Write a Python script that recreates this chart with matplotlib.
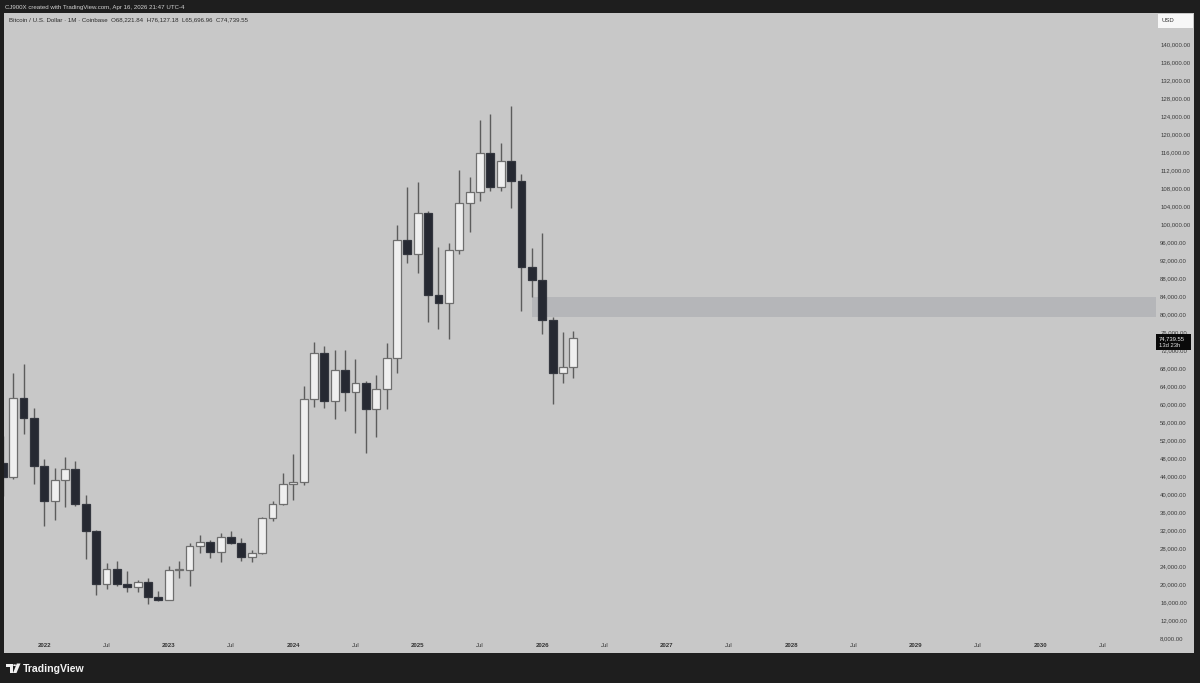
import matplotlib
matplotlib.use("Agg")
import matplotlib.pyplot as plt
from matplotlib.patches import Rectangle, Polygon, Circle

# ---------------- data (monthly BTC/USD candles, Sep 2021 .. Apr 2026) ----------------
months = ["2021-09", "2021-10", "2021-11", "2021-12",
          "2022-01", "2022-02", "2022-03", "2022-04", "2022-05", "2022-06",
          "2022-07", "2022-08", "2022-09", "2022-10", "2022-11", "2022-12",
          "2023-01", "2023-02", "2023-03", "2023-04", "2023-05", "2023-06",
          "2023-07", "2023-08", "2023-09", "2023-10", "2023-11", "2023-12",
          "2024-01", "2024-02", "2024-03", "2024-04", "2024-05", "2024-06",
          "2024-07", "2024-08", "2024-09", "2024-10", "2024-11", "2024-12",
          "2025-01", "2025-02", "2025-03", "2025-04", "2025-05", "2025-06",
          "2025-07", "2025-08", "2025-09", "2025-10", "2025-11", "2025-12",
          "2026-01", "2026-02", "2026-03", "2026-04"]
opens = [47000, 43800, 61300, 57000,
         46200, 38500, 43200, 45500, 37700, 31800,
         19900, 23300, 20000, 19400, 20500, 17200,
         16500, 23100, 23200, 28500, 29300, 27200,
         30500, 29200, 26000, 27000, 34600, 37700,
         42300, 42600, 61200, 71300, 60700, 67500,
         62700, 64600, 59000, 63300, 70200, 96400,
         93400, 102400, 84300, 82500, 94200, 104600,
         107100, 115700, 108200, 114000, 109600, 90400,
         87600, 78600, 67000, 68221.84]
highs = [52900, 66900, 68900, 59100,
         47800, 45800, 48200, 47400, 39800, 31900,
         24700, 25200, 22800, 21000, 21400, 18400,
         23900, 25200, 29200, 30900, 29800, 31400,
         31800, 30200, 27500, 35000, 38400, 44700,
         48900, 64000, 73700, 72800, 71900, 71900,
         70000, 65100, 66500, 73600, 99800, 108300,
         109400, 102800, 95000, 95800, 111900, 110500,
         123200, 124500, 117900, 126200, 111200, 94600,
         97900, 79300, 76000, 76127.18]
lows = [39600, 43300, 53300, 42200,
        32900, 34300, 37200, 37400, 25600, 17600,
        18800, 19600, 18200, 18200, 15500, 16300,
        16500, 21400, 19600, 26900, 25800, 24800,
        28900, 25200, 24900, 26600, 34100, 37600,
        38600, 41900, 59300, 59200, 56600, 58500,
        53500, 49100, 52600, 58900, 66800, 91300,
        89200, 78200, 76600, 74400, 93300, 98200,
        105100, 107300, 107300, 103500, 80600, 83800,
        75600, 60000, 64700, 65696.96]
closes = [43800, 61300, 57000, 46200,
          38500, 43200, 45500, 37700, 31800, 19900,
          23300, 20000, 19400, 20500, 17200, 16500,
          23100, 23200, 28500, 29300, 27200, 30500,
          29200, 26000, 27000, 34600, 37700, 42300,
          42600, 61200, 71300, 60700, 67500, 62700,
          64600, 59000, 63300, 70200, 96400, 93400,
          102400, 84300, 82500, 94200, 104600, 107100,
          115700, 108200, 114000, 109600, 90400, 87600,
          78600, 67000, 68200, 74739.55]

# supply zone (price band) and the month it starts from
zone_low, zone_high = 79300, 83800
zone_start_month = "2025-12"

# axis ticks
price_ticks = list(range(8000, 140001, 4000))
time_tick_months = ["2022-01", "2022-07", "2023-01", "2023-07", "2024-01", "2024-07",
                    "2025-01", "2025-07", "2026-01", "2026-07", "2027-01", "2027-07",
                    "2028-01", "2028-07", "2029-01", "2029-07", "2030-01", "2030-07"]
time_tick_labels = ["2022", "Jul", "2023", "Jul", "2024", "Jul", "2025", "Jul",
                    "2026", "Jul", "2027", "Jul", "2028", "Jul", "2029", "Jul",
                    "2030", "Jul"]

header_text = "CJ900X created with TradingView.com, Apr 16, 2026 21:47 UTC-4"
legend_text = ("Bitcoin / U.S. Dollar \u00b7 1M \u00b7 Coinbase  O68,221.84  "
               "H76,127.18  L65,696.96  C74,739.55")
last_price_text = "74,739.55"
countdown_text = "13d 23h"


def month_index(m):
    y, mo = map(int, m.split("-"))
    return (y - 2021) * 12 + (mo - 9)


# ---------------- figure ----------------
W, H = 1200, 683
BG_DARK = "#1e1e1e"
PANEL = "#c8c8c8"
FONT = ["Liberation Sans", "DejaVu Sans"]
plt.rcParams["font.family"] = FONT

fig = plt.figure(figsize=(W / 100, H / 100), dpi=100)
fig.patch.set_facecolor(BG_DARK)


def fx(px):
    return px / W


def fy(py):
    return 1 - py / H


# light chart panel (plot + price axis + time axis)
fig.add_artist(Rectangle((fx(4), fy(653)), fx(1194) - fx(4), fy(13) - fy(653),
                         transform=fig.transFigure, facecolor=PANEL,
                         edgecolor="none", zorder=-5))

ax = fig.add_axes([fx(4), fy(640), fx(1156) - fx(4), fy(13) - fy(640)])
ax.set_facecolor(PANEL)
for s in ax.spines.values():
    s.set_visible(False)

px0, pxstep = 2.81, 10.373
ax.set_xlim((4 - px0) / pxstep, (1156 - px0) / pxstep)
ax.set_ylim(7556, 146889)

# zone
zs = month_index(zone_start_month)
ax.add_patch(Rectangle((zs, zone_low), 200, zone_high - zone_low,
                       facecolor="#b5b6b9", edgecolor="none", zorder=1))

# candles
xs = [month_index(m) for m in months]
UP_FILL, UP_EDGE = "#efefef", "#6e6e6e"
DN_FILL, DN_EDGE = "#262932", "#33363e"
WICK = "#5c5c5c"
ax.vlines(xs, lows, highs, color=WICK, linewidth=1.0, zorder=2)
for x, o, c in zip(xs, opens, closes):
    up = c >= o
    bottom = min(o, c)
    h = max(abs(c - o), 250)
    ax.bar(x, h, bottom=bottom, width=0.76,
           color=UP_FILL if up else DN_FILL,
           edgecolor=UP_EDGE if up else DN_EDGE, linewidth=0.9, zorder=3)

# price axis on right
ax.yaxis.tick_right()
ax.set_yticks(price_ticks)
ax.set_yticklabels([f"{v:,.2f}" for v in price_ticks])
ax.tick_params(axis="y", length=0, pad=3, labelsize=4.3, labelcolor="#3a3a3a")

# time axis
ax.set_xticks([month_index(m) for m in time_tick_months])
ax.set_xticklabels(time_tick_labels)
ax.tick_params(axis="x", length=0, pad=2.5, labelsize=4.4, labelcolor="#333333")
for lab in ax.get_xticklabels():
    if lab.get_text() != "Jul":
        lab.set_fontweight("bold")

# header / legend text
fig.text(fx(5), fy(7), header_text, fontsize=4.4, color="#d2d2d2",
         ha="left", va="center")
fig.text(fx(9), fy(20), legend_text, fontsize=4.4, color="#2a2a2a",
         ha="left", va="center", zorder=6)

# USD box
fig.add_artist(Rectangle((fx(1158), fy(28)), fx(1193) - fx(1158), fy(14) - fy(28),
                         transform=fig.transFigure, facecolor="#f7f7f7",
                         edgecolor="none", zorder=6))
fig.text(fx(1162), fy(21), "USD", fontsize=4.3, color="#333333",
         ha="left", va="center", zorder=7)

# last price label
fig.add_artist(Rectangle((fx(1156), fy(350)), fx(1191) - fx(1156), fy(334) - fy(350),
                         transform=fig.transFigure, facecolor="#0a0a0a",
                         edgecolor="none", zorder=6))
fig.text(fx(1159), fy(338.5), last_price_text, fontsize=4.2, color="#f0f0f0",
         ha="left", va="center", zorder=7)
fig.text(fx(1159), fy(345.5), countdown_text, fontsize=4.2, color="#e0e0e0",
         ha="left", va="center", zorder=7)

# TradingView logo (bottom left)
logo_col = "#f2f2f2"
fig.add_artist(Polygon([(fx(6), fy(663.5)), (fx(12.5), fy(663.5)), (fx(12.5), fy(673)),
                        (fx(9.5), fy(673)), (fx(9.5), fy(666.5)), (fx(6), fy(666.5))],
                       closed=True, transform=fig.transFigure,
                       facecolor=logo_col, edgecolor="none", zorder=6))
fig.add_artist(Circle((fx(14.6), fy(665.2)), 1.5 / W, transform=fig.transFigure,
                      facecolor=logo_col, edgecolor="none", zorder=6))
fig.add_artist(Polygon([(fx(16.8), fy(663.5)), (fx(20.5), fy(663.5)), (fx(16.5), fy(673)),
                        (fx(13.0), fy(673))],
                       closed=True, transform=fig.transFigure,
                       facecolor=logo_col, edgecolor="none", zorder=6))
fig.text(fx(22.5), fy(668.5), "TradingView", fontsize=7.6, color=logo_col,
         ha="left", va="center", fontweight="bold", zorder=6)

fig.savefig("out.png", dpi=100, facecolor=fig.get_facecolor())
